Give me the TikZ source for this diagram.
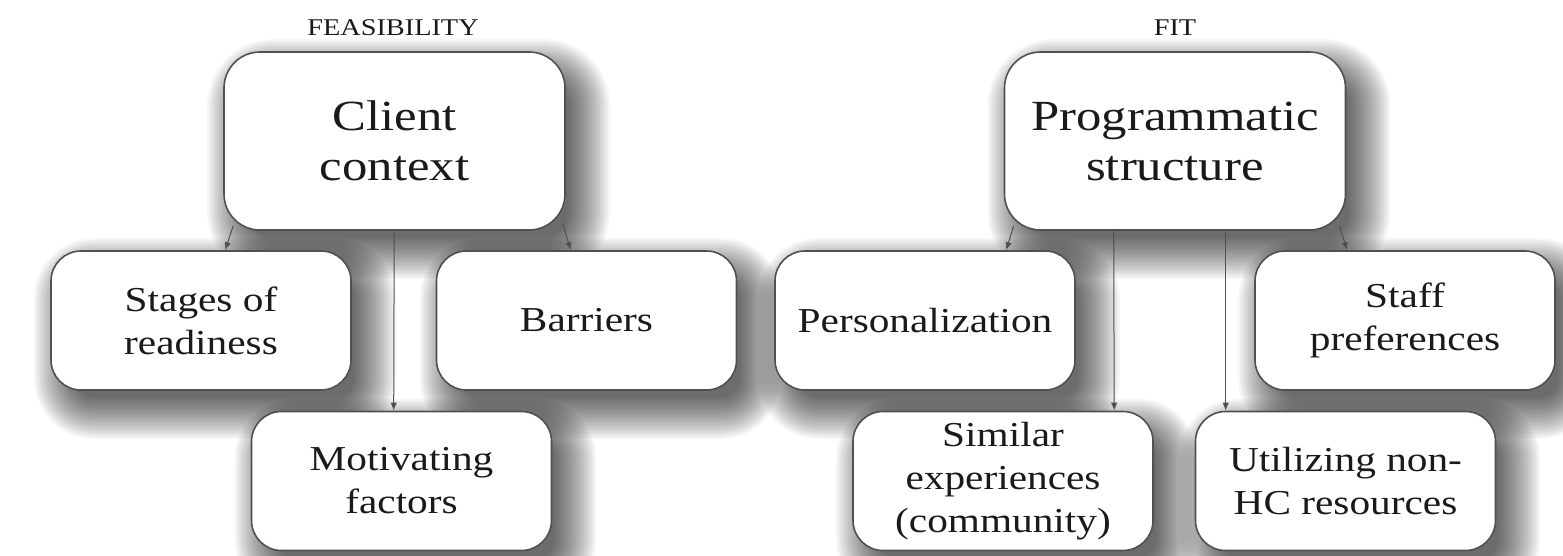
\documentclass[tikz,border=0pt]{standalone}
\usepackage{fontspec}
\setmainfont[FakeStretch=1.18]{Liberation Serif}
\usetikzlibrary{arrows.meta,calc}
\pgfdeclarelayer{background}
\pgfsetlayers{background,main}
\definecolor{edge}{HTML}{505050}
\definecolor{ink}{HTML}{1A1A1A}
\tikzset{
  box/.style={draw=edge, line width=0.8pt, fill=white, rounded corners=15pt,
    text=ink, align=center, font=\fontsize{17.5}{21.5}\selectfont,
    minimum width=150pt, minimum height=69.5pt, inner sep=0pt},
  bigbox/.style={box, rounded corners=18pt, font=\fontsize{21.5}{25}\selectfont,
    minimum width=170.5pt, minimum height=89pt},
  heading/.style={text=ink, font=\fontsize{12}{14}\selectfont},
  arr/.style={draw=edge, line width=0.5pt, -{Latex[length=4pt,width=3.2pt]}},
  shadowlayer/.style={fill=black, fill opacity=0.036}
}
% soft drop shadow: stacked translucent rounded rectangles behind a node
\newcommand{\softshadow}[2]{%
  \begin{pgfonlayer}{background}
    \foreach \s [evaluate=\s as \rr using {max(2,#2+0.5*\s)}] in {30,28,...,-12}
      \fill[shadowlayer, rounded corners=\rr pt]
        ($(#1.south west)+(14-\s,18+\s)$) rectangle ($(#1.north east)+(14+\s,18-\s)$);
  \end{pgfonlayer}}
\begin{document}
\begin{tikzpicture}[x=0.5pt,y=-0.5pt]
\begin{pgfonlayer}{background}
  \fill[white] (0,0) rectangle (1563,556);
\end{pgfonlayer}
\useasboundingbox (0,0) rectangle (1563,556);

% feasibility branch
\node[heading] (feas) at (393,28) {FEASIBILITY};
\node[bigbox] (cc) at (394.5,141) {Client\\context};
\node[box] (sr) at (201,320.5) {Stages of\\readiness};
\node[box] (ba) at (586.5,320.5) {Barriers};
\node[box] (mf) at (401.5,481) {Motivating\\factors};

% fit branch
\node[heading] (fit) at (1175,28) {FIT};
\node[bigbox] (ps) at (1175,141) {Programmatic\\structure};
\node[box] (pe) at (925,320.5) {Personalization};
\node[box] (sp) at (1405,320.5) {Staff\\preferences};
\node[box] (se) at (1003,481) {Similar\\experiences\\(community)};
\node[box] (ut) at (1345.5,481) {Utilizing non-\\HC resources};

% shadows
\softshadow{cc}{18}
\softshadow{ps}{18}
\foreach \n in {sr,ba,mf,pe,sp,se,ut} {\softshadow{\n}{15}}

% connectors
\draw[arr] ($(cc.south west)+(10,-5)$) -- ($(sr.north west)+(175,0)$);
\draw[arr] ($(cc.south west)+(171,0)$) -- ($(mf.north west)+(143,0)$);
\draw[arr] ($(cc.south east)+(-3,-7)$) -- ($(ba.north west)+(135,0)$);

\draw[arr] ($(ps.south west)+(10,-5)$) -- ($(pe.north west)+(232,0)$);
\draw[arr] ($(ps.south west)+(110,0)$) -- ($(se.north west)+(262,0)$);
\draw[arr] ($(ps.south west)+(222,0)$) -- ($(ut.north west)+(31,0)$);
\draw[arr] ($(ps.south east)+(-7,-5)$) -- ($(sp.north west)+(93,0)$);
\end{tikzpicture}
\end{document}
